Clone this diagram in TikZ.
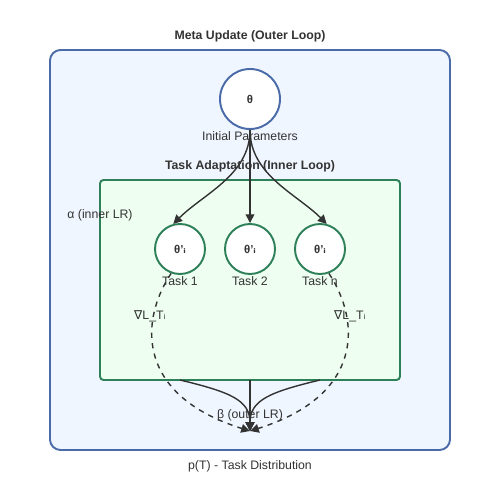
\documentclass[tikz,border=0pt]{standalone}
\usepackage{fontspec}
\setmainfont{Liberation Sans}
\newfontfamily\symfont{DejaVu Sans}
\usetikzlibrary{arrows.meta}

\definecolor{outerblue}{HTML}{4A6BA8}
\definecolor{outerfill}{HTML}{F0F6FF}
\definecolor{innergreen}{HTML}{2E8059}
\definecolor{innerfill}{HTML}{EEFFF2}
\definecolor{ink}{HTML}{333333}

\begin{document}
\begin{tikzpicture}[x=0.02cm, y=-0.02cm,
        font=\fontsize{7}{8}\selectfont, text=ink,
        param/.style={circle, draw=outerblue, line width=1.1pt, fill=white,
            minimum size=1.2cm, inner sep=0pt, font=\fontsize{6.5}{7}\selectfont\bfseries},
        task/.style={circle, draw=innergreen, line width=1.1pt, fill=white,
            minimum size=1cm, inner sep=0pt, font=\fontsize{6.5}{7}\selectfont\bfseries},
        flow/.style={draw=ink, line width=0.8pt, -{Triangle[length=5pt, width=5pt]}},
        grad/.style={flow, dashed}]
        \useasboundingbox (0,0) rectangle (500,500);

        % loops
        \node[font=\fontsize{7}{8}\selectfont\bfseries] (metaTitle) at (250,36) {Meta Update (Outer Loop)};
        \draw[draw=outerblue, fill=outerfill, line width=1.1pt, rounded corners=6pt]
            (50,50) rectangle (450,450);
        \node[font=\fontsize{7}{8}\selectfont\bfseries] (innerTitle) at (250,166) {Task Adaptation (Inner Loop)};
        \draw[draw=innergreen, fill=innerfill, line width=1.1pt, rounded corners=2pt]
            (100,180) rectangle (400,380);

        % parameters
        \node[param] (theta) at (250,99) {θ};
        \node (thetaLabel) at (250,136) {Initial Parameters};
        \node (alpha) at (100,215) {α (inner LR)};

        \node[task] (t1) at (180,249) {θ'{\symfont ᵢ}};
        \node[task] (t2) at (250,249) {θ'{\symfont ᵢ}};
        \node[task] (tn) at (320,249) {θ'{\symfont ᵢ}};
        \node (t1Label) at (180,281) {Task 1};
        \node (t2Label) at (250,281) {Task 2};
        \node (tnLabel) at (320,281) {Task n};

        \coordinate (goal) at (250,431);
        \coordinate (b1) at (180,380);
        \coordinate (b2) at (250,380);
        \coordinate (bn) at (320,380);

        % inner updates
        \draw[flow] (theta.south) .. controls +(0,45) and +(30,-30) .. (t1.105);
        \draw[flow] (theta.south) -- (t2.north);
        \draw[flow] (theta.south) .. controls +(0,45) and +(-30,-30) .. (tn.75);

        % meta gradients
        \draw[grad] (t1.250) .. controls (140,320) and (135,395) .. (goal);
        \draw[grad] (tn.290) .. controls (360,320) and (365,395) .. (goal);
        \node (gradLeft) at (150,316) {{\symfont ∇}L\_T{\symfont ᵢ}};
        \node (gradRight) at (350,316) {{\symfont ∇}L\_T{\symfont ᵢ}};

        \draw[flow] (b1) .. controls (230,392) and (250,400) .. (goal);
        \draw[flow] (b2) -- (goal);
        \draw[flow] (bn) .. controls (270,392) and (250,400) .. (goal);

        \node (beta) at (250,415) {β (outer LR)};
        \node (dist) at (250,466) {p(T) - Task Distribution};
    \end{tikzpicture}
\end{document}
